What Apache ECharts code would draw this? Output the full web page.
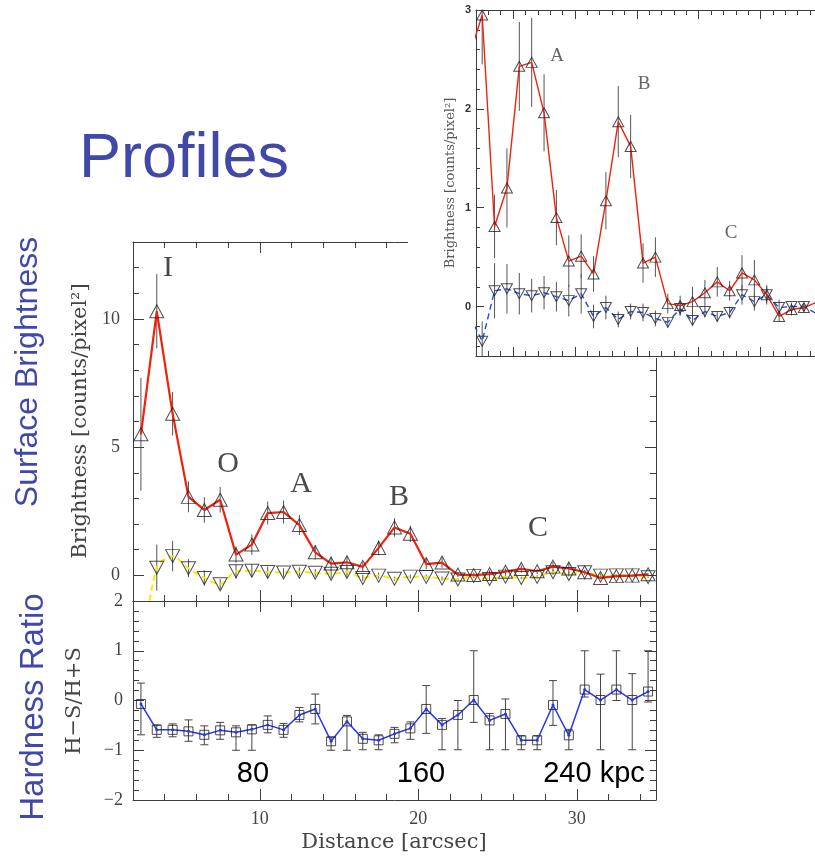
<!DOCTYPE html>
<html><head><meta charset="utf-8">
<script src="https://cdn.jsdelivr.net/npm/echarts@6/dist/echarts.min.js"></script>
<style>html,body{margin:0;padding:0;background:#fff}#c{width:815px;height:858px}</style>
</head><body><div id="c"></div><script>
// ---------- data ----------
const radius = [2.5,3.5,4.5,5.5,6.5,7.5,8.5,9.5,10.5,11.5,12.5,13.5,14.5,15.5,16.5,17.5,18.5,19.5,20.5,21.5,22.5,23.5,24.5,25.5,26.5,27.5,28.5,29.5,30.5,31.5,32.5,33.5,34.5];
const upBright = [5.5,10.3,6.3,3.06,2.55,2.95,0.81,1.2,2.43,2.47,1.96,0.9,0.46,0.51,0.33,1.07,1.87,1.62,0.44,0.5,0.03,0.01,0.05,0.14,0.25,0.16,0.34,0.27,0.12,-0.1,-0.03,-0.01,0.04];
const upErr = [2.2,1.45,0.85,0.6,0.5,0.5,0.32,0.4,0.45,0.45,0.39,0.28,0.26,0.22,0.18,0.29,0.36,0.32,0.2,0.2,0.1,0.1,0.15,0.13,0.15,0.1,0.18,0.2,0.1,0.05,0.06,0.04,0.04];
const downBright = [-3.3,0.3,0.75,0.28,-0.1,-0.35,0.16,0.18,0.13,0.11,0.14,0.10,0.06,0.13,-0.10,-0.01,-0.13,-0.05,-0.06,-0.12,-0.16,-0.02,-0.14,-0.05,-0.10,-0.06,0.12,0.05,0.12,-0.01,0.0,0.0,-0.07];
const downErr = [1.0,0.9,0.6,0.35,0.3,0.2,0.28,0.25,0.21,0.17,0.17,0.15,0.16,0.2,0.12,0.12,0.08,0.08,0.09,0.08,0.05,0.07,0.05,0.06,0.05,0.06,0.1,0.09,0.08,0.08,0.04,0.03,0.03];
const hardRatio = [-0.07,-0.59,-0.59,-0.62,-0.69,-0.6,-0.64,-0.58,-0.49,-0.59,-0.29,-0.17,-0.82,-0.42,-0.77,-0.80,-0.67,-0.56,-0.17,-0.49,-0.29,0.01,-0.40,-0.27,-0.80,-0.80,-0.09,-0.70,0.22,0.01,0.22,0.01,0.18];
const hardHi = [0.35,-0.49,-0.47,-0.39,-0.51,-0.44,-0.51,-0.49,-0.31,-0.46,-0.14,0.13,-0.74,-0.3,-0.64,-0.69,-0.54,-0.43,0.30,-0.36,0.0,1.0,-0.26,0.03,-0.71,-0.71,0.40,-0.58,1.0,0.53,1.0,0.54,1.0];
const hardLo = [-0.69,-0.74,-0.73,-0.82,-0.89,-0.78,-1.0,-1.0,-0.65,-0.74,-0.43,-0.47,-1.0,-1.0,-0.99,-0.99,-0.85,-0.78,-0.66,-0.99,-0.99,-0.44,-0.99,-0.99,-0.99,-0.99,-0.5,-0.99,0.07,-0.99,0.0,-0.99,-0.03];
const xMajorTicks = [10,20,30];
const mainYTicks = [0,5,10];
const hardYTicks = [-2,-1,0,1,2];
const insetXTicks = [10,15,20,25,30];
const insetYTicks = [0,1,2,3];
const peakNames = ['I','O','A','B','C'];
const insetPeakNames = ['A','B','C'];
const kpcLabels = ['80','160','240 kpc'];

// ---------- helpers ----------
function steps(a,b,s){const r=[];for(let v=a;v<=b+1e-9;v+=s) r.push(Math.round(v*1000)/1000);return r;}
const AX='#3c3c3c';
const fmt = v => String(Math.round(v*100)/100).replace('-', '\u2212');
function axis(o){
  return {
    type:'value', gridIndex:o.g, position:o.pos, min:o.min, max:o.max, z:o.z||0, silent:true,
    axisLine:{show:!!o.line, onZero:false, lineStyle:{color:AX,width:1}},
    axisTick:{show:true, inside:true, length:o.len, customValues:o.ticks, lineStyle:{color:AX,width:1}},
    axisLabel:o.labels?Object.assign({show:true, customValues:o.labels, formatter:fmt}, o.ls):{show:false},
    splitLine:{show:false}, axisPointer:{show:false}
  };
}
const serifLbl = {fontFamily:'"Liberation Serif"', fontSize:18, color:'#444'};
const insetLbl = {fontFamily:'"Liberation Sans"', fontSize:11, fontWeight:'bold', color:'#333', margin:5};
const M = {min:2,max:35}, HY={min:-2,max:2}, MY={min:-1,max:13}, IX={min:7,max:34.4}, IY={min:-0.5,max:3};

const xAxis = [
  axis(Object.assign({g:0,pos:'bottom',line:1,len:11,ticks:xMajorTicks},M)),
  axis(Object.assign({g:0,pos:'bottom',len:6,ticks:steps(4,34,2)},M)),
  axis(Object.assign({g:0,pos:'top',line:1,len:11,ticks:xMajorTicks},M)),
  axis(Object.assign({g:0,pos:'top',len:6,ticks:steps(4,34,2)},M)),
  axis(Object.assign({g:1,pos:'bottom',line:1,len:11,ticks:xMajorTicks,labels:xMajorTicks,ls:Object.assign({margin:10},serifLbl)},M)),
  axis(Object.assign({g:1,pos:'bottom',len:6,ticks:steps(4,34,2)},M)),
  axis(Object.assign({g:1,pos:'top',line:1,len:11,ticks:xMajorTicks},M)),
  axis(Object.assign({g:1,pos:'top',len:6,ticks:steps(4,34,2)},M)),
  axis(Object.assign({g:2,pos:'bottom',line:1,len:9,ticks:insetXTicks,z:60},IX)),
  axis(Object.assign({g:2,pos:'bottom',len:5,ticks:steps(8,34,1),z:60},IX)),
  axis(Object.assign({g:2,pos:'top',line:1,len:9,ticks:insetXTicks,z:60},IX)),
  axis(Object.assign({g:2,pos:'top',len:5,ticks:steps(8,34,1),z:60},IX))
];
const yAxis = [
  axis(Object.assign({g:0,pos:'left',line:1,len:11,ticks:mainYTicks,labels:mainYTicks,ls:Object.assign({margin:13},serifLbl)},MY)),
  axis(Object.assign({g:0,pos:'left',len:6,ticks:steps(0,12,1)},MY)),
  axis(Object.assign({g:0,pos:'right',line:1,len:11,ticks:mainYTicks},MY)),
  axis(Object.assign({g:0,pos:'right',len:6,ticks:steps(0,12,1)},MY)),
  axis(Object.assign({g:1,pos:'left',line:1,len:11,ticks:hardYTicks,labels:hardYTicks,ls:Object.assign({margin:10},serifLbl)},HY)),
  axis(Object.assign({g:1,pos:'left',len:6,ticks:steps(-1.8,1.8,0.2)},HY)),
  axis(Object.assign({g:1,pos:'right',line:1,len:11,ticks:hardYTicks},HY)),
  axis(Object.assign({g:1,pos:'right',len:6,ticks:steps(-1.8,1.8,0.2)},HY)),
  axis(Object.assign({g:2,pos:'left',line:1,len:8,ticks:insetYTicks,labels:insetYTicks,ls:insetLbl,z:60},IY)),
  axis(Object.assign({g:2,pos:'left',len:4,ticks:steps(-0.4,2.8,0.2),z:60},IY))
];

function errBars(ax, lo, hi, cap, z, color){
  return {type:'custom', xAxisIndex:ax, yAxisIndex:ax, z, clip:true, silent:true,
    data: radius.map((x,i)=>[x, lo[i], hi[i]]),
    encode:{x:0, y:[1,2]},
    renderItem(params, api){
      const a=api.coord([api.value(0), api.value(2)]);
      const b=api.coord([api.value(0), api.value(1)]);
      const st={stroke:color, lineWidth:1};
      const ch=[{type:'line', shape:{x1:a[0],y1:a[1],x2:b[0],y2:b[1]}, style:st}];
      if(cap){
        ch.push({type:'line', shape:{x1:a[0]-cap,y1:a[1],x2:a[0]+cap,y2:a[1]}, style:st});
        ch.push({type:'line', shape:{x1:b[0]-cap,y1:b[1],x2:b[0]+cap,y2:b[1]}, style:st});
      }
      return {type:'group', children:ch};
    }};
}
const upLo = upBright.map((v,i)=>v-upErr[i]), upHi = upBright.map((v,i)=>v+upErr[i]);
const dnLo = downBright.map((v,i)=>v-downErr[i]), dnHi = downBright.map((v,i)=>v+downErr[i]);
const upPts = radius.map((x,i)=>[x, upBright[i]]);
const dnPts = radius.map((x,i)=>[x, downBright[i]]);
const hrPts = radius.map((x,i)=>[x, hardRatio[i]]);
const hollow = {color:'rgba(255,255,255,0)', borderColor:'#222', borderWidth:1};

function lineS(ax, data, color, width, dash, z, smooth){
  return {type:'line', xAxisIndex:ax, yAxisIndex:ax, data, symbol:'none', z, clip:true, silent:true,
    smooth: smooth||false, lineStyle:{color, width, type: dash||'solid'}};
}
function markS(ax, data, size, rot, z, sym){
  return {type:'scatter', xAxisIndex:ax, yAxisIndex:ax, data, symbol:sym||'triangle', symbolSize:size,
    symbolRotate:rot||0, itemStyle:hollow, z, clip:true, silent:true};
}

const series = [
  // main panel
  errBars(0, upLo, upHi, 0, 2, '#555'),
  errBars(0, dnLo, dnHi, 0, 2, '#555'),
  lineS(0, dnPts, '#f5ea00', 2, [6,4], 3, 0.3),
  lineS(0, upPts, '#f2200c', 2.2, 'solid', 4),
  markS(0, upPts, [14,13], 0, 5),
  markS(0, dnPts, [14,13], 180, 5),
  // hardness panel
  errBars(4, hardLo, hardHi, 4, 2, '#444'),
  {type:'line', xAxisIndex:4, yAxisIndex:4, data:hrPts, symbol:'circle', symbolSize:3, z:3, silent:true,
   lineStyle:{color:'#2436f0', width:1.5}, itemStyle:{color:'#2436f0'}},
  markS(4, hrPts, 9, 0, 4, 'rect'),
  // inset
  errBars(8, upLo, upHi, 0, 61, '#555'),
  errBars(8, dnLo, dnHi, 0, 61, '#555'),
  lineS(8, dnPts, '#2448e8', 1.4, [6,4], 62),
  lineS(8, upPts, '#f2200c', 1.4, 'solid', 63),
  markS(8, upPts, [11,10], 0, 64),
  markS(8, dnPts, [11,10], 180, 64)
];

const BLUE='#4048a8';
function txt(text, x, y, size, family, fill, rot, weight){
  return {type:'text', x, y, rotation: rot||0, z:100, silent:true,
    style:{text, fontSize:size, fontFamily:family, fontWeight:weight||'normal', fill, align:'center', verticalAlign:'middle'}};
}
const SANS='"Liberation Sans"', SERIF='"Liberation Serif"', DSERIF='"DejaVu Serif"';
const peakPos = [[168,268],[228,464],[301,484],[399,497],[538,528]];
const insetPeakPos = [[557,56],[644,84],[731,233]];
const kpcPos = [[253,774],[421,774],[594,774]];
const graphic = [
  {type:'rect', shape:{x:408,y:0,width:407,height:358}, style:{fill:'#fff'}, z:50, silent:true},
  txt('Profiles', 184, 160, 63, SANS, BLUE),
  txt('Surface Brightness', 28, 372, 32, SANS, BLUE, Math.PI/2),
  txt('Hardness Ratio', 34, 707, 33, SANS, BLUE, Math.PI/2),
  txt('Brightness [counts/pixel\u00b2]', 81, 421, 21, DSERIF, '#444', Math.PI/2),
  txt('H\u2212S/H+S', 74.5, 701, 21, DSERIF, '#444', Math.PI/2),
  txt('Distance [arcsec]', 394, 843, 21, DSERIF, '#444'),
  txt('Brightness [counts/pixel\u00b2]', 451, 183, 13, DSERIF, '#555', Math.PI/2)
];
peakNames.forEach((n,i)=>graphic.push(txt(n, peakPos[i][0], peakPos[i][1], 30, SERIF, '#4a4a4a')));
insetPeakNames.forEach((n,i)=>graphic.push(txt(n, insetPeakPos[i][0], insetPeakPos[i][1], 19, SERIF, '#666')));
kpcLabels.forEach((n,i)=>graphic.push(txt(n, kpcPos[i][0], kpcPos[i][1], 29, SANS, '#000')));

const chart = echarts.init(document.getElementById('c'), null, {renderer:'canvas'});
chart.setOption({
  animation:false,
  backgroundColor:'#fff',
  grid:[
    {left:133, top:242, width:523, height:359},
    {left:133, top:601, width:523, height:199},
    {left:476, top:10, width:339, height:346}
  ],
  xAxis, yAxis, series, graphic
});
</script></body></html>
